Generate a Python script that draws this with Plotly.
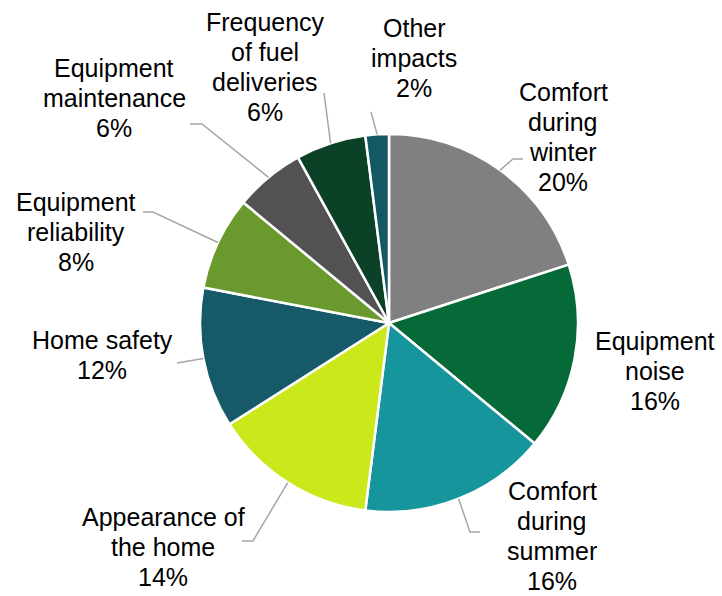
import numpy as np
import plotly.graph_objects as go

# Share of responses by impact category (clockwise from 12 o'clock)
categories = [
    "Comfort during winter", "Equipment noise", "Comfort during summer",
    "Appearance of the home", "Home safety", "Equipment reliability",
    "Equipment maintenance", "Frequency of fuel deliveries", "Other impacts",
]
shares = [20, 16, 16, 14, 12, 8, 6, 6, 2]
label_lines = [
    ["Comfort", "during", "winter"], ["Equipment", "noise"], ["Comfort", "during", "summer"],
    ["Appearance of", "the home"], ["Home safety"], ["Equipment", "reliability"],
    ["Equipment", "maintenance"], ["Frequency", "of fuel", "deliveries"], ["Other", "impacts"],
]
colors = ["#808080", "#066a38", "#16969c", "#cae81a", "#165a69",
          "#6a9a2d", "#525252", "#0b4126", "#145864"]

W, H = 722, 596
CX, CY, R = 389, 323, 189
LINE_H = 30

# label block centres (px) and leader-line elbows (px, None = no leader)
label_pos = [(563, 137), (655, 371), (552, 536), (163, 547), (102, 355),
             (76, 232), (114, 98), (265, 67), (414, 58)]
elbows = [[(513, 159), (523, 159)], None, [(470, 532), (480, 532)],
          [(253, 541), (242, 541)], [(177, 363)], [(153, 212), (143, 212)],
          [(202, 124), (190, 124)], [(324, 93)], [(371, 112)]]

fig = go.Figure(go.Pie(
    values=shares, labels=categories, sort=False, direction="clockwise",
    rotation=0, textinfo="none", hoverinfo="label+percent",
    marker=dict(colors=colors, line=dict(color="white", width=2.5)),
    domain=dict(x=[(CX - R) / W, (CX + R) / W], y=[1 - (CY + R) / H, 1 - (CY - R) / H]),
    showlegend=False,
))

def px(x, y):
    return x / W, 1 - y / H

total = float(sum(shares))
cum = np.cumsum([0] + shares)
shapes, annotations = [], []
for i, v in enumerate(shares):
    mid = 2 * np.pi * (cum[i] + v / 2) / total
    ex, ey = CX + R * np.sin(mid), CY - R * np.cos(mid)
    if elbows[i]:
        pts = [(ex, ey)] + elbows[i]
        path = "M " + " L ".join(f"{px(a, b)[0]},{px(a, b)[1]}" for a, b in pts)
        shapes.append(dict(type="path", path=path, xref="paper", yref="paper",
                           line=dict(color="#a6a6a6", width=1.5)))
    lines = label_lines[i] + [f"{v}%"]
    cx, cy = label_pos[i]
    n = len(lines)
    for k, t in enumerate(lines):
        lx, ly = px(cx, cy + (k - (n - 1) / 2) * LINE_H)
        annotations.append(dict(
            x=lx, y=ly, xref="paper", yref="paper", xanchor="center", yanchor="middle",
            text=t, showarrow=False,
            font=dict(family="Liberation Sans, Arial, sans-serif", size=25, color="#000000"),
        ))

fig.update_layout(
    width=W, height=H, margin=dict(l=0, r=0, t=0, b=0),
    paper_bgcolor="white", plot_bgcolor="white",
    shapes=shapes, annotations=annotations,
)
fig.write_html("out.html")
